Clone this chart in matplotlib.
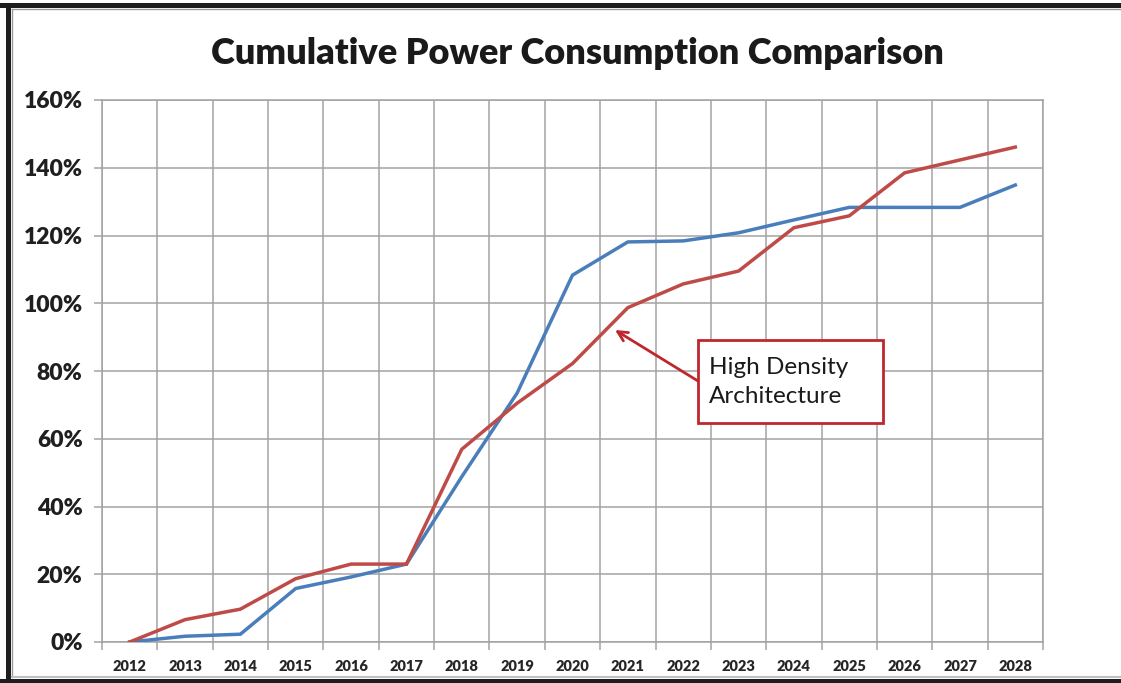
import matplotlib
matplotlib.use("Agg")
import matplotlib.pyplot as plt
from matplotlib.patches import Rectangle
from matplotlib.lines import Line2D

years = ["2012", "2013", "2014", "2015", "2016", "2017", "2018", "2019", "2020",
         "2021", "2022", "2023", "2024", "2025", "2026", "2027", "2028"]
blue_series = [0.0, 1.7, 2.3, 15.8, 19.2, 23.0, 48.8, 73.5, 108.3,
               118.1, 118.4, 120.8, 124.6, 128.3, 128.3, 128.3, 134.9]
red_series = [0.0, 6.6, 9.7, 18.7, 23.0, 23.0, 56.9, 70.5, 82.2,
              98.7, 105.7, 109.5, 122.3, 125.8, 138.5, 142.3, 146.1]
y_ticks = [0, 20, 40, 60, 80, 100, 120, 140, 160]
title = "Cumulative Power Consumption Comparison"
note = "High Density\nArchitecture"

W, H = 1121, 683
fig = plt.figure(figsize=(W / 100, H / 100), dpi=100)
fig.patch.set_facecolor("white")

def fx(px):
    return px / W

def fy(py):
    return 1 - py / H

left, right, top, bottom = 102, 1043, 100, 642
ax = fig.add_axes([fx(left), fy(bottom), fx(right - left), (bottom - top) / H])

x = list(range(len(years)))
ax.plot(x, [v / 100 for v in blue_series], color="#4A7EBB", lw=2.5, solid_joinstyle="miter", zorder=3)
ax.plot(x, [v / 100 for v in red_series], color="#BE4B48", lw=2.5, solid_joinstyle="miter", zorder=4)

grid_c = "#a3a3a3"
ax.set_xlim(-0.5, len(years) - 0.5)
ax.set_ylim(0, 1.6)
ax.set_xticks(x)
ax.set_xticklabels(years)
ax.set_xticks([i - 0.5 for i in range(len(years) + 1)], minor=True)
ax.set_yticks([t / 100 for t in y_ticks])
ax.set_yticklabels([f"{t}%" for t in y_ticks])

ax.grid(True, which="minor", axis="x", color=grid_c, lw=1.1)
ax.grid(True, which="major", axis="y", color=grid_c, lw=1.1)
ax.tick_params(axis="x", which="major", length=0, pad=13)
ax.tick_params(axis="x", which="minor", length=6, color=grid_c, width=1.1)
ax.tick_params(axis="y", which="major", length=6, color=grid_c, width=1.1, pad=8)
for sp in ax.spines.values():
    sp.set_color(grid_c)
    sp.set_linewidth(1.1)
ax.set_axisbelow(True)

for lab in ax.get_xticklabels():
    lab.set_fontfamily("Lato")
    lab.set_fontweight("heavy")
    lab.set_fontsize(10.5)
    lab.set_color("#262626")
for lab in ax.get_yticklabels():
    lab.set_fontfamily("Lato")
    lab.set_fontweight("heavy")
    lab.set_fontsize(16.5)
    lab.set_color("#1f1f1f")

fig.text(fx(577), fy(54), title, ha="center", va="center", fontfamily="Lato",
         fontweight="heavy", fontsize=26, color="#1a1a1a")

# annotation box
red_dark = "#C0262D"
box_l, box_t, box_r, box_b = 698, 340, 883, 423
fig.add_artist(Rectangle((fx(box_l), fy(box_b)), fx(box_r - box_l), (box_b - box_t) / H,
                         transform=fig.transFigure, fill=True, facecolor="white",
                         edgecolor=red_dark, lw=2, zorder=10))
fig.text(fx(709), fy(382), note, ha="left", va="center", fontfamily="Lato",
         fontsize=17.5, color="#1a1a1a", linespacing=1.5, zorder=11)
tip_x = (615 - left) / ((right - left) / len(years)) - 0.5
tip_y = (bottom - 330) / ((bottom - top) / 1.6)
ax.annotate("", xy=(tip_x, tip_y), xycoords="data",
            xytext=(fx(box_l), fy(381)), textcoords="figure fraction",
            arrowprops=dict(arrowstyle="->,head_length=0.7,head_width=0.35",
                            color=red_dark, lw=2, shrinkA=0, shrinkB=0),
            annotation_clip=False, zorder=9)

# outer frame
dark = "#1e1e1e"
fig.add_artist(Rectangle((0, fy(7.5)), 1, 4.5 / H, transform=fig.transFigure, color=dark, lw=0))
fig.add_artist(Rectangle((0, 0), 1, 4.5 / H, transform=fig.transFigure, color=dark, lw=0))
fig.add_artist(Rectangle((fx(5.5), 0), 5.5 / W, fy(3), transform=fig.transFigure, color=dark, lw=0))
fig.add_artist(Line2D([fx(12), 1], [fy(9), fy(9)], transform=fig.transFigure, color="#9a9a9a", lw=1))
fig.add_artist(Line2D([fx(12), fx(12)], [fy(9), fy(677)], transform=fig.transFigure, color="#9a9a9a", lw=1))
fig.add_artist(Line2D([fx(12), 1], [fy(677), fy(677)], transform=fig.transFigure, color="#c0c0c0", lw=1.5))

fig.savefig("out.png", dpi=100)
